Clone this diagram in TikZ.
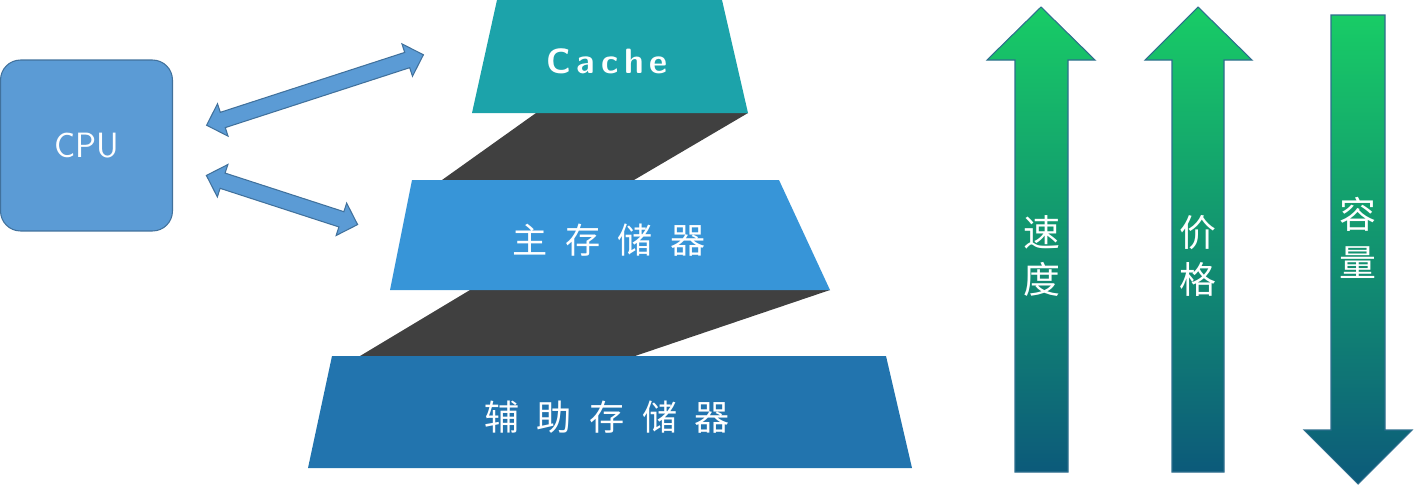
\documentclass[tikz,border=0pt]{standalone}
\usepackage{fontspec}
\newfontfamily\cjk{Noto Sans CJK SC}
\usetikzlibrary{shapes.arrows}
\definecolor{cpublue}{HTML}{5B9BD5}
\definecolor{cpuedge}{HTML}{41719C}
\definecolor{cacheteal}{HTML}{1CA3AA}
\definecolor{mainblue}{HTML}{3795D8}
\definecolor{auxblue}{HTML}{2274AE}
\definecolor{bandgray}{HTML}{404040}
\definecolor{topgreen}{HTML}{18CC66}
\definecolor{botteal}{HTML}{0C5A7A}
\definecolor{arrowedge}{HTML}{2E6E8E}
\begin{document}
\begin{tikzpicture}[x=0.02cm,y=-0.02cm,
  every node/.style={text=white},
  layer-text/.style={font=\cjk\fontsize{20}{20}\selectfont},
  link-arrow/.style={double arrow,draw=cpuedge,fill=cpublue,inner sep=0.15cm,
    double arrow head extend=0.18cm,line width=0.6pt},
  grad-arrow/.style={top color=topgreen,bottom color=botteal,draw=arrowedge,line width=0.6pt},
  side-text/.style={font=\cjk\fontsize{21}{21}\selectfont,align=center},
  ]
  \useasboundingbox (0,0) rectangle (1414,485);

  % CPU
  \node [draw=cpuedge,fill=cpublue,rounded corners=0.4cm,line width=0.6pt,
    minimum width=3.44cm,minimum height=3.42cm,
    font=\sffamily\fontsize{20}{20}\selectfont] (cpu) at (86.5,145.5) {CPU};
  \node [link-arrow,minimum height=4.56cm,rotate=18] (cpu-cache) at (315,90) {};
  \node [link-arrow,minimum height=3.18cm,rotate=-18] (cpu-main) at (282,200) {};

  % pyramid
  \fill [bandgray] (536,113) -- (748,113) -- (634,180) -- (442,180) -- cycle;
  \fill [bandgray] (470,290) -- (830,290) -- (635,356) -- (360,356) -- cycle;
  \fill [cacheteal] (497,0) -- (722,0) -- (748,113) -- (472,113) -- cycle;
  \fill [mainblue] (412,180) -- (779,180) -- (830,290) -- (390,290) -- cycle;
  \fill [auxblue] (332,356) -- (886,356) -- (912,468) -- (308,468) -- cycle;
  \node [font=\sffamily\bfseries\fontsize{20}{20}\selectfont] (cache-text) at (607,61)
    {C\,a\,c\,h\,e};
  \node [layer-text] (main-text) at (609,240) {主\enspace 存\enspace 储\enspace 器};
  \node [layer-text] (aux-text) at (607,417) {辅\enspace 助\enspace 存\enspace 储\enspace 器};

  % trends
  \shade [grad-arrow] (1041,7) -- (1095,60) -- (1068,60) -- (1068,472) -- (1015,472)
    -- (1015,60) -- (987,60) -- cycle;
  \shade [grad-arrow] (1198,7) -- (1252,60) -- (1224,60) -- (1224,472) -- (1172,472)
    -- (1172,60) -- (1145,60) -- cycle;
  \shade [grad-arrow] (1331,15) -- (1385,15) -- (1385,430) -- (1412,430) -- (1358,484)
    -- (1304,430) -- (1331,430) -- cycle;
  \node [side-text] (speed-text) at (1042,256) {速\\[6pt]度};
  \node [side-text] (price-text) at (1198,256) {价\\[6pt]格};
  \node [side-text] (size-text) at (1358,238) {容\\[6pt]量};
\end{tikzpicture}
\end{document}
